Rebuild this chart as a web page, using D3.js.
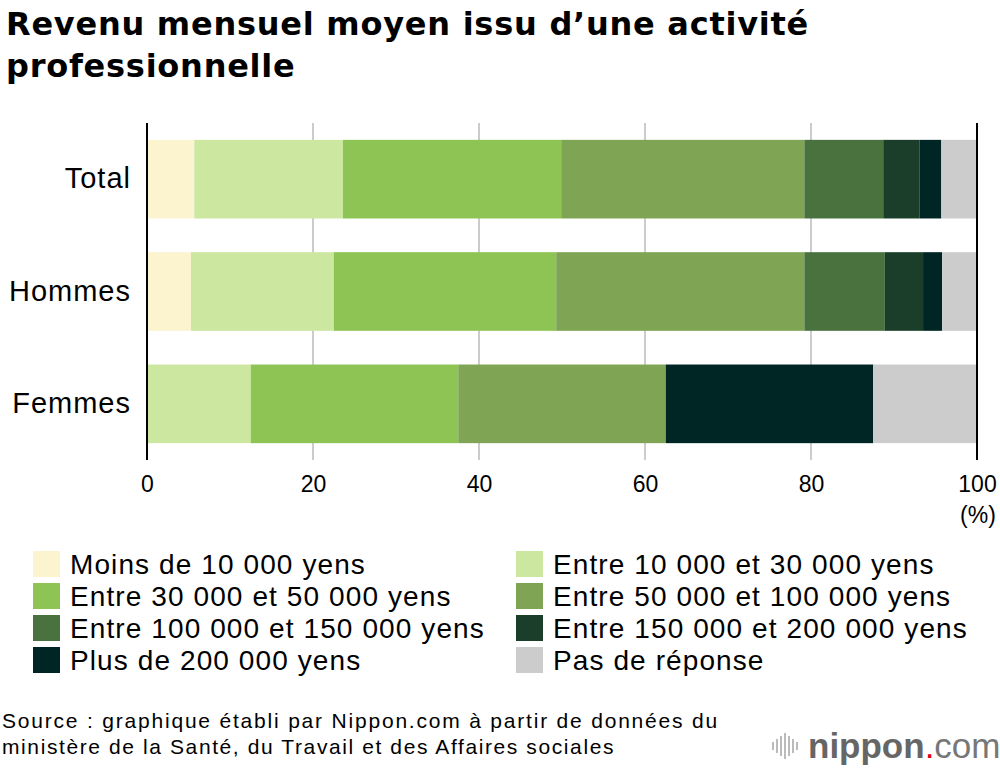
<!DOCTYPE html>
<html>
<head>
<meta charset="utf-8">
<script src="https://cdn.jsdelivr.net/npm/d3@7"></script>
<style>
  body { margin: 0; background: #fff; }
  svg text { font-family: "Liberation Sans", Arial, Helvetica, sans-serif; fill: #000; }
</style>
</head>
<body>
<div class="bar-chart"></div>
<script>
const categories = ["Total", "Hommes", "Femmes"];
const series = [
  "Moins de 10 000 yens",
  "Entre 10 000 et 30 000 yens",
  "Entre 30 000 et 50 000 yens",
  "Entre 50 000 et 100 000 yens",
  "Entre 100 000 et 150 000 yens",
  "Entre 150 000 et 200 000 yens",
  "Plus de 200 000 yens",
  "Pas de réponse"
];
const colors = ["#fcf3cf", "#cce8a0", "#8dc454", "#7ea454", "#4a723e", "#1b3e2a", "#002525", "#cccccc"];
// percentage values per category, in series order
const totalValues  = [5.7, 17.9, 26.3, 29.3, 9.5, 4.4, 2.6, 4.3];
const hommesValues = [5.3, 17.2, 26.8, 29.9, 9.7, 4.6, 2.3, 4.2];
const femmesValues = [0, 12.5, 25, 25, 0, 0, 25, 12.5];
const xTicks = [0, 20, 40, 60, 80, 100];

const allValues = [totalValues, hommesValues, femmesValues];
const rows = categories.map((c, i) => {
  const r = {category: c};
  series.forEach((s, j) => r[s] = allValues[i][j]);
  return r;
});

const width = 1000, height = 768;
const svg = d3.select(".bar-chart").append("svg")
  .attr("width", width).attr("height", height);

// title
const titleLines = ["Revenu mensuel moyen issu d\u2019une activité", "professionnelle"];
svg.selectAll(".title").data(titleLines).enter().append("text")
  .attr("class", "title")
  .attr("x", 6).attr("y", (d, i) => 35 + i * 42)
  .attr("font-size", 32).attr("font-weight", "bold")
  .style("font-family", "'DejaVu Sans', sans-serif")
  .attr("letter-spacing", 0.75)
  .text(d => d);

const xScale = d3.scaleLinear().domain([0, 100]).range([147, 977]);
const yScale = d3.scaleBand().domain(categories).range([123, 460])
  .paddingInner(0.3).paddingOuter(0.15);

// gridlines
svg.append("g").selectAll("line")
  .data(xTicks.filter(d => d > 0 && d < 100))
  .enter().append("line")
  .attr("x1", d => xScale(d)).attr("x2", d => xScale(d))
  .attr("y1", 123).attr("y2", 460)
  .attr("stroke", "#cccccc").attr("stroke-width", 2);

// stacked bars
const stacked = d3.stack().keys(series)(rows);
svg.append("g").selectAll("g")
  .data(stacked)
  .enter().append("g")
  .attr("fill", (d, i) => colors[i])
  .selectAll("rect")
  .data(d => d)
  .enter().append("rect")
  .attr("x", d => xScale(d[0]))
  .attr("width", d => xScale(d[1]) - xScale(d[0]))
  .attr("y", d => yScale(d.data.category))
  .attr("height", yScale.bandwidth());

// left and right border lines
svg.append("g").selectAll("line")
  .data([0, 100])
  .enter().append("line")
  .attr("x1", d => xScale(d)).attr("x2", d => xScale(d))
  .attr("y1", 123).attr("y2", 460)
  .attr("stroke", "#000").attr("stroke-width", 2);

// x axis labels
const xAxis = d3.axisBottom(xScale).tickValues(xTicks).tickSize(0).tickPadding(0);
const gx = svg.append("g").attr("transform", "translate(0,476)").call(xAxis);
gx.select(".domain").remove();
gx.selectAll("text").attr("font-size", 23).attr("fill", "#000")
  .attr("font-family", "Liberation Sans, Arial, sans-serif");
svg.append("text").attr("x", 978).attr("y", 523)
  .attr("text-anchor", "middle").attr("font-size", 23).text("(%)");

// category labels
const yAxis = d3.axisLeft(yScale).tickSize(0).tickPadding(16);
const gy = svg.append("g").attr("transform", "translate(147,0)").call(yAxis);
gy.select(".domain").remove();
gy.selectAll("text").attr("font-size", 29).attr("fill", "#000")
  .attr("letter-spacing", 1)
  .attr("font-family", "Liberation Sans, Arial, sans-serif");

// legend
const legend = svg.append("g").selectAll("g")
  .data(series)
  .enter().append("g")
  .attr("transform", (d, i) => `translate(${i % 2 === 0 ? 33 : 516},${551 + Math.floor(i / 2) * 32})`);
legend.append("rect").attr("width", 27).attr("height", 26)
  .attr("fill", (d, i) => colors[i]);
legend.append("text").attr("x", 37).attr("y", 23)
  .attr("font-size", 28).attr("letter-spacing", 1.1).text(d => d);

// source
svg.append("text").attr("x", 2).attr("y", 728).attr("font-size", 21).attr("letter-spacing", 1.8)
  .text("Source : graphique établi par Nippon.com à partir de données du");
svg.append("text").attr("x", 2).attr("y", 754).attr("font-size", 21).attr("letter-spacing", 1.6)
  .text("ministère de la Santé, du Travail et des Affaires sociales");

// logo
const logo = svg.append("g").attr("transform", "translate(772,733)");
const bars = [[0, 8], [4, 14], [8, 20], [12, 26], [16, 20], [20, 14], [24, 8]];
logo.selectAll("rect").data(bars).enter().append("rect")
  .attr("x", d => d[0]).attr("y", d => 13 - d[1] / 2)
  .attr("width", 2).attr("height", d => d[1])
  .attr("fill", "#bbbbbb");
const lt = logo.append("text").attr("x", 36).attr("y", 25).attr("font-size", 35);
lt.append("tspan").attr("font-weight", "bold").style("fill", "#666").text("nippon");
lt.append("tspan").style("fill", "#e60012").text(".");
lt.append("tspan").style("fill", "#777").text("com");
</script>
</body>
</html>
